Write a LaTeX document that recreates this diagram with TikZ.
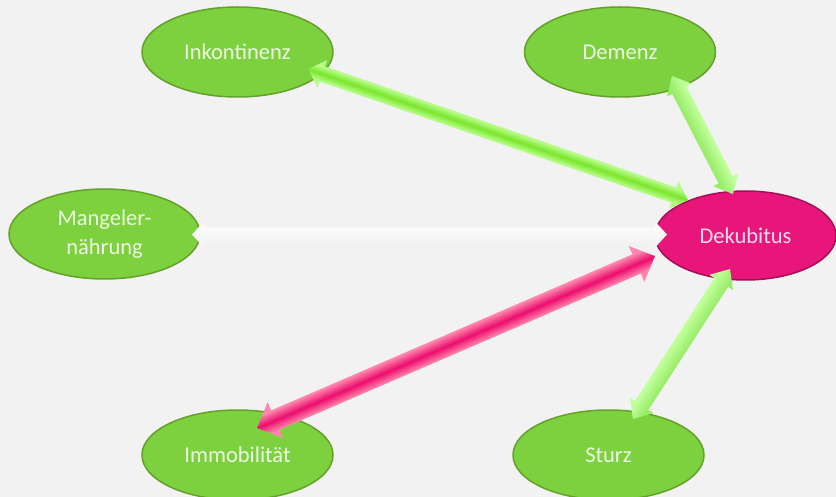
\documentclass[tikz,border=0pt]{standalone}
\usepackage{fontspec}
\setmainfont{Carlito}
\usetikzlibrary{shapes.geometric,calc}

\definecolor{bgcol}{HTML}{F2F2F2}
\definecolor{gfill}{HTML}{7ED13E}
\definecolor{gborder}{HTML}{64A02A}
\definecolor{pfill}{HTML}{E8157B}
\definecolor{pborder}{HTML}{A50F58}
\definecolor{garrD}{HTML}{7BE62B}
\definecolor{garrL}{HTML}{B6FB88}
\definecolor{lgarrA}{HTML}{C2FF9C}
\definecolor{lgarrB}{HTML}{98EC68}
\definecolor{parrD}{HTML}{EC0D6E}
\definecolor{parrL}{HTML}{FF87AD}
\definecolor{warrA}{HTML}{FAFAFA}
\definecolor{warrB}{HTML}{F5F5F5}

\pgfdeclareverticalshading{greenarr}{100bp}{color(0bp)=(garrL); color(38bp)=(garrL); color(50bp)=(garrD); color(62bp)=(garrL); color(100bp)=(garrL)}
\pgfdeclareverticalshading{lgreenarr}{100bp}{color(0bp)=(lgarrB); color(37bp)=(lgarrB); color(63bp)=(lgarrA); color(100bp)=(lgarrA)}
\pgfdeclareverticalshading{pinkarr}{100bp}{color(0bp)=(parrL); color(37bp)=(parrL); color(50bp)=(parrD); color(63bp)=(parrL); color(100bp)=(parrL)}
\pgfdeclareverticalshading{whitearr}{100bp}{color(0bp)=(warrB); color(40bp)=(warrB); color(60bp)=(warrA); color(100bp)=(warrA)}

% #1 from, #2 to, #3 shaft half width, #4 head half width, #5 head length, #6 shading
\newcommand\blockarrow[6]{%
  \path let \p1=(#1), \p2=(#2),
    \n1={atan2(\y2-\y1,\x2-\x1)}, \n2={veclen(\x2-\x1,\y2-\y1)} in
    \pgfextra{\xdef\barang{\n1}\xdef\barlen{\n2}};
  \begin{scope}[transform canvas={shift={(#1)},rotate=\barang}]
    \shade[shading=#6]
      (0pt,0pt) -- (#5pt,#4pt) -- (#5pt,#3pt) -- ({\barlen-#5pt},#3pt)
      -- ({\barlen-#5pt},#4pt) -- (\barlen,0pt) -- ({\barlen-#5pt},-#4pt)
      -- ({\barlen-#5pt},-#3pt) -- (#5pt,-#3pt) -- (#5pt,-#4pt) -- cycle;
  \end{scope}}

\tikzset{
  gell/.style={ellipse, draw=gborder, fill=gfill, line width=1.5pt,
    minimum width=191pt, minimum height=90pt, inner sep=0pt,
    text=white, text opacity=0.85, align=center,
    font=\fontsize{22.5}{29}\selectfont},
  pell/.style={gell, draw=pborder, fill=pfill, minimum width=181pt, minimum height=89pt}
}

\begin{document}
\begin{tikzpicture}[x=1pt,y=-1pt]
  \useasboundingbox (0,0) rectangle (836,497);
  \clip (0,0) rectangle (836,497);
  \fill[bgcol] (0,0) rectangle (836,497);

  \node[gell] (ink) at (237.5,52) {Inkontinenz};
  \node[gell] (dem) at (620,52) {Demenz};
  \node[gell] (man) at (104.5,234) {Mangeler-\\nährung};
  \node[pell] (dek) at (745.5,235.5) {Dekubitus};
  \node[gell] (imm) at (237.5,455) {Immobilität};
  \node[gell] (stu) at (608.5,455) {Sturz};

  \coordinate (inkA) at ($(ink.center)+(70.5,17)$);
  \coordinate (dekA) at ($(dek.center)+(-57.5,-35.5)$);
  \coordinate (demA) at ($(dem.center)+(52,24)$);
  \coordinate (dekB) at ($(dek.center)+(-12.5,-41.5)$);
  \coordinate (manA) at ($(man.center)+(87.5,0.5)$);
  \coordinate (dekC) at ($(dek.center)+(-78.5,-1)$);
  \coordinate (immA) at ($(imm.center)+(19.5,-27)$);
  \coordinate (dekD) at ($(dek.center)+(-90.5,20.5)$);
  \coordinate (stuA) at ($(stu.center)+(24.5,-36)$);
  \coordinate (dekE) at ($(dek.center)+(-15.5,33.5)$);

  \blockarrow{inkA}{dekA}{8}{14.5}{15}{greenarr}
  \blockarrow{demA}{dekB}{8}{14}{16}{lgreenarr}
  \blockarrow{manA}{dekC}{7}{13}{12}{whitearr}
  \blockarrow{immA}{dekD}{10.5}{19.5}{20}{pinkarr}
  \blockarrow{stuA}{dekE}{8}{14}{16}{lgreenarr}
\end{tikzpicture}
\end{document}
